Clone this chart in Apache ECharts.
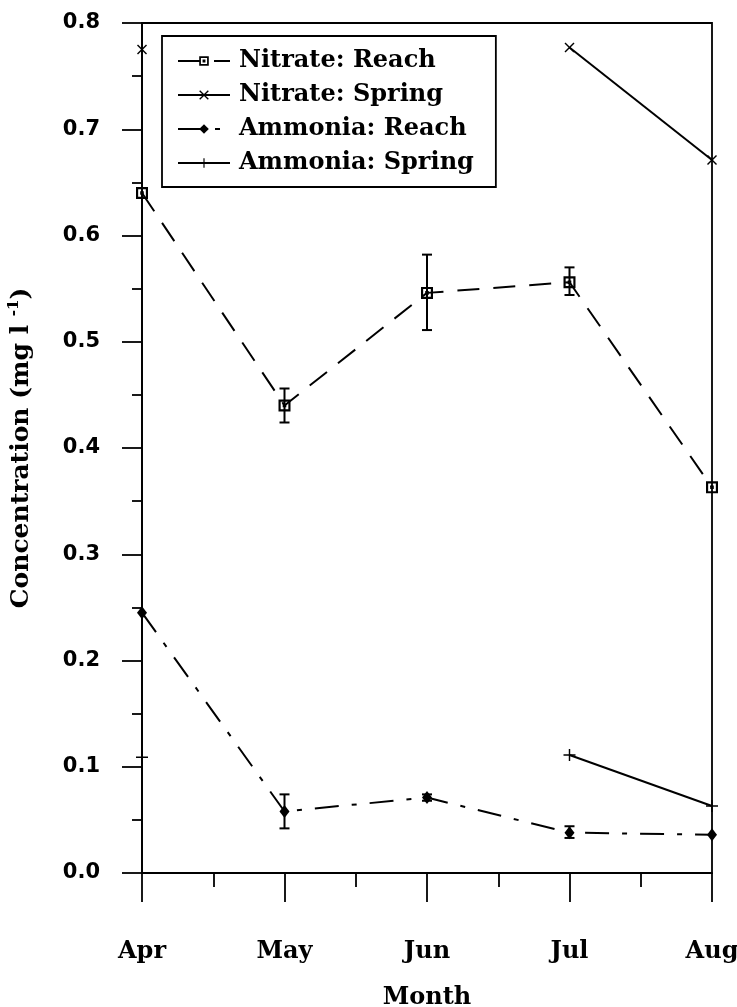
<!DOCTYPE html>
<html><head><meta charset="utf-8">
<script src="https://cdn.jsdelivr.net/npm/echarts@6/dist/echarts.min.js"></script>
<style>html,body{margin:0;padding:0;background:#fff}#c{width:737px;height:1007px}</style>
</head><body><div id="c"></div>
<script>
const months = ['Apr', 'May', 'Jun', 'Jul', 'Aug'];
const nitrateReach     = [0.640, 0.440, 0.546, 0.556, 0.363];
const nitrateReachLow  = [null, 0.424, 0.511, 0.544, null];
const nitrateReachHigh = [null, 0.456, 0.582, 0.570, null];
const nitrateSpring    = [0.775, null, null, 0.777, 0.671];
const ammoniaReach     = [0.245, 0.058, 0.071, 0.038, 0.036];
const ammoniaReachLow  = [null, 0.042, 0.068, 0.033, null];
const ammoniaReachHigh = [null, 0.074, 0.074, 0.044, null];
const ammoniaSpring    = [0.109, null, null, 0.111, 0.063];
const seriesNames = ['Nitrate: Reach', 'Nitrate: Spring', 'Ammonia: Reach', 'Ammonia: Spring'];

const SERIF = 'DejaVu Serif';
const toXY = arr => arr.map((v, i) => [i, v == null ? '-' : v]);
const toErr = (lo, hi) => lo.map((v, i) => v == null ? null : [i, v, hi[i]]).filter(d => d);

const SQ = 'path://M0,0L10,0L10,10L0,10Z M1.8,1.8L1.8,8.2L8.2,8.2L8.2,1.8Z M3.5,3.5L6.5,3.5L6.5,6.5L3.5,6.5Z';
const XS = 'path://M0,1L1,0L5,4L9,0L10,1L6,5L10,9L9,10L5,6L1,10L0,9L4,5Z';
const PL = 'path://M4.4,0L5.6,0L5.6,10L4.4,10Z M0,4.4L10,4.4L10,5.6L0,5.6Z';

function errRender(params, api) {
  const x = api.value(0), lo = api.value(1), hi = api.value(2);
  const a = api.coord([x, lo]), b = api.coord([x, hi]);
  const w = 5;
  const st = {stroke: '#000', lineWidth: 2};
  return {type: 'group', children: [
    {type: 'line', shape: {x1: a[0], y1: a[1], x2: b[0], y2: b[1]}, style: st},
    {type: 'line', shape: {x1: a[0] - w, y1: a[1], x2: a[0] + w, y2: a[1]}, style: st},
    {type: 'line', shape: {x1: b[0] - w, y1: b[1], x2: b[0] + w, y2: b[1]}, style: st}
  ]};
}

const chart = echarts.init(document.getElementById('c'), null, {renderer: 'canvas'});
chart.setOption({
  animation: false,
  backgroundColor: '#fff',
  grid: {left: 142, right: 25, top: 23, bottom: 134, outerBoundsMode: 'none', containLabel: false,
         show: true, borderColor: '#000', borderWidth: 1.8, backgroundColor: 'transparent'},
  legend: {
    data: seriesNames, orient: 'vertical', left: 162, top: 36,
    padding: [13, 22, 12, 15], itemWidth: 52, itemHeight: 12, itemGap: 10,
    borderColor: '#000', borderWidth: 1.8, backgroundColor: '#fff',
    textStyle: {fontFamily: SERIF, fontWeight: 'bold', fontSize: 24, color: '#000', lineHeight: 22, padding: [0, 0, 0, 4]}
  },
  xAxis: {
    type: 'value', min: 0, max: 4, interval: 1,
    axisLine: {show: true, lineStyle: {color: '#000', width: 1.8}},
    axisTick: {show: true, length: 29, lineStyle: {color: '#000', width: 1.8}},
    minorTick: {show: true, splitNumber: 2, length: 14, lineStyle: {color: '#000', width: 1.8}},
    splitLine: {show: false},
    axisLabel: {formatter: v => months[v] || '', fontFamily: SERIF, fontWeight: 'bold', fontSize: 24, color: '#000', margin: 67},
    name: 'Month', nameLocation: 'middle', nameGap: 113,
    nameTextStyle: {fontFamily: SERIF, fontWeight: 'bold', fontSize: 24, color: '#000'}
  },
  yAxis: {
    type: 'value', min: 0, max: 0.8, interval: 0.1,
    axisLine: {show: true, lineStyle: {color: '#000', width: 1.8}},
    axisTick: {show: true, length: 20, lineStyle: {color: '#000', width: 1.8}},
    minorTick: {show: true, splitNumber: 2, length: 10, lineStyle: {color: '#000', width: 1.8}},
    splitLine: {show: false},
    axisLabel: {formatter: v => v.toFixed(1), fontFamily: 'DejaVu Sans', fontWeight: 'bold', fontSize: 21, color: '#000', margin: 42},
    name: 'Concentration (mg l {sup|-1})', nameLocation: 'middle', nameGap: 107,
    nameTextStyle: {fontFamily: SERIF, fontWeight: 'bold', fontSize: 25, color: '#000',
      rich: {sup: {fontFamily: SERIF, fontWeight: 'bold', fontSize: 15, color: '#000', padding: [0, 0, 13, 0]}}}
  },
  series: [
    {name: seriesNames[0], type: 'line', data: toXY(nitrateReach), symbol: SQ, symbolSize: 12,
     lineStyle: {color: '#000', width: 2, type: [22, 14]}, itemStyle: {color: '#000'}, z: 3},
    {name: seriesNames[1], type: 'line', data: toXY(nitrateSpring), symbol: XS, symbolSize: 10,
     lineStyle: {color: '#000', width: 2}, itemStyle: {color: '#000'}, z: 3},
    {name: seriesNames[2], type: 'line', data: toXY(ammoniaReach), symbol: 'diamond', symbolSize: [10, 13],
     lineStyle: {color: '#000', width: 2, type: [24, 13, 5, 13]}, itemStyle: {color: '#000'}, z: 3},
    {name: seriesNames[3], type: 'line', data: toXY(ammoniaSpring), symbol: PL, symbolSize: 12,
     lineStyle: {color: '#000', width: 2}, itemStyle: {color: '#000'}, z: 3},
    {name: 'errN', type: 'custom', renderItem: errRender, data: toErr(nitrateReachLow, nitrateReachHigh), encode: {x: 0, y: [1, 2]}, z: 4},
    {name: 'errA', type: 'custom', renderItem: errRender, data: toErr(ammoniaReachLow, ammoniaReachHigh), encode: {x: 0, y: [1, 2]}, z: 4}
  ]
});
</script>
</body></html>
